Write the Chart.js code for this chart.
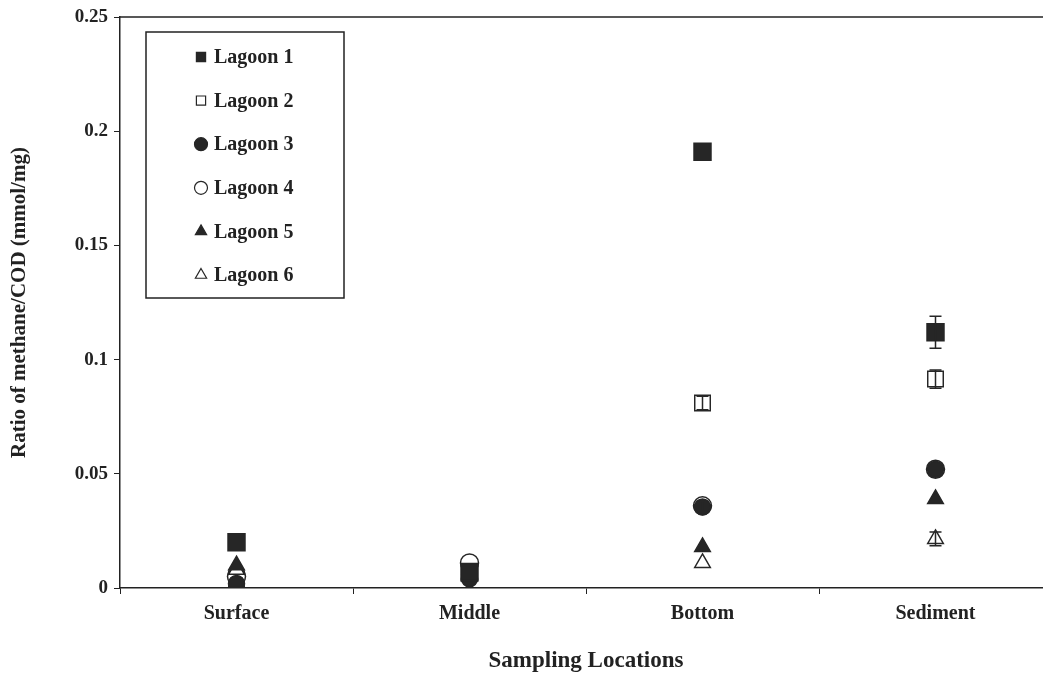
<!DOCTYPE html>
<html>
<head>
<meta charset="utf-8">
<script src="https://cdn.jsdelivr.net/npm/chart.js@4/dist/chart.umd.min.js"></script>
<style>
  html, body { margin: 0; padding: 0; overflow: hidden; background: #fff; }
  #c { display: block; }
</style>
</head>
<body>
<canvas id="c" width="1052" height="675"></canvas>
<script>
// ---- data ----
const categories = ["Surface", "Middle", "Bottom", "Sediment"];
const seriesNames = ["Lagoon 1", "Lagoon 2", "Lagoon 3", "Lagoon 4", "Lagoon 5", "Lagoon 6"];
const lagoon1 = [0.020, 0.007, 0.191, 0.112];
const lagoon2 = [0.004, 0.009, 0.081, 0.0915];
const lagoon3 = [0.002, 0.004, 0.0355, 0.052];
const lagoon4 = [0.005, 0.011, 0.036, 0.052];
const lagoon5 = [0.010, 0.006, 0.018, 0.039];
const lagoon6 = [0.008, 0.005, 0.011, 0.0215];
const err1 = [0, 0, 0, 0.007];
const err2 = [0, 0, 0.003, 0.004];
const err3 = [0, 0, 0, 0];
const err4 = [0, 0, 0.002, 0];
const err5 = [0, 0, 0, 0];
const err6 = [0, 0, 0, 0.003];
const yTickValues = [0, 0.05, 0.1, 0.15, 0.2, 0.25];
const yTickLabels = ["0", "0.05", "0.1", "0.15", "0.2", "0.25"];

const FONT = '"Liberation Serif", "Times New Roman", serif';
const DARK = '#262626';

function ds(label, data, err, style, filled, radius, order) {
  return {
    label, data, errors: err, order,
    showLine: false,
    pointStyle: style,
    pointRadius: radius,
    pointHoverRadius: radius,
    pointBackgroundColor: filled ? DARK : '#ffffff',
    pointBorderColor: DARK,
    pointBorderWidth: 1.5,
    borderColor: DARK,
    backgroundColor: filled ? DARK : '#ffffff'
  };
}

const datasets = [
  ds(seriesNames[0], lagoon1, err1, 'rect', true, 12, 1),
  ds(seriesNames[1], lagoon2, err2, 'rect', false, 11, 6),
  ds(seriesNames[2], lagoon3, err3, 'circle', true, 8, 2),
  ds(seriesNames[3], lagoon4, err4, 'circle', false, 9, 5),
  ds(seriesNames[4], lagoon5, err5, 'triangle', true, 9, 3),
  ds(seriesNames[5], lagoon6, err6, 'triangle', false, 9, 4)
];

const errorBars = {
  id: 'errorBars',
  afterDatasetsDraw(chart) {
    const ctx = chart.ctx;
    const y = chart.scales.y;
    ctx.save();
    ctx.strokeStyle = DARK;
    ctx.lineWidth = 1.5;
    chart.data.datasets.forEach((d, i) => {
      const meta = chart.getDatasetMeta(i);
      d.errors.forEach((e, j) => {
        if (!e) return;
        const p = meta.data[j];
        const yt = y.getPixelForValue(d.data[j] + e);
        const yb = y.getPixelForValue(d.data[j] - e);
        ctx.beginPath();
        ctx.moveTo(p.x, yt); ctx.lineTo(p.x, yb);
        ctx.moveTo(p.x - 6, yt); ctx.lineTo(p.x + 6, yt);
        ctx.moveTo(p.x - 6, yb); ctx.lineTo(p.x + 6, yb);
        ctx.stroke();
      });
    });
    ctx.restore();
  }
};

const frame = {
  id: 'frame',
  afterDraw(chart) {
    const {ctx, chartArea: a} = chart;
    ctx.save();
    ctx.strokeStyle = '#222';
    ctx.lineWidth = 1.5;
    ctx.beginPath();
    ctx.moveTo(a.left, a.top); ctx.lineTo(a.right, a.top); ctx.lineTo(a.right, a.bottom);
    ctx.stroke();
    ctx.restore();
  }
};

const boxLegend = {
  id: 'boxLegend',
  afterDraw(chart, args, opts) {
    const ctx = chart.ctx;
    ctx.save();
    ctx.fillStyle = '#fff';
    ctx.fillRect(opts.x, opts.y, opts.w, opts.h);
    ctx.strokeStyle = '#222';
    ctx.lineWidth = 1.5;
    ctx.strokeRect(opts.x, opts.y, opts.w, opts.h);
    ctx.font = 'bold 20px ' + FONT;
    ctx.textBaseline = 'middle';
    ctx.textAlign = 'left';
    chart.data.datasets.forEach((d, i) => {
      const cy = opts.y + opts.firstY + i * opts.step;
      ctx.fillStyle = d.pointBackgroundColor;
      ctx.strokeStyle = d.pointBorderColor;
      ctx.lineWidth = 1.2;
      Chart.helpers.drawPoint(ctx, {pointStyle: d.pointStyle, radius: 6.5, rotation: 0, borderWidth: 1.2}, opts.x + opts.markerX, cy);
      ctx.fillStyle = '#222';
      ctx.fillText(d.label, opts.x + opts.textX, cy + 1);
    });
    ctx.restore();
  }
};

new Chart(document.getElementById('c'), {
  type: 'line',
  data: { labels: categories, datasets },
  plugins: [errorBars, frame, boxLegend],
  options: {
    responsive: false,
    animation: false,
    layout: { autoPadding: false, padding: { top: 17, left: 0, right: 0, bottom: 0 } },
    plugins: {
      legend: { display: false },
      tooltip: { enabled: false },
      boxLegend: { x: 146, y: 32, w: 198, h: 266, firstY: 25, step: 43.6, markerX: 55, textX: 68 }
    },
    scales: {
      x: {
        type: 'category',
        offset: true,
        afterFit(s) { s.height = 87; s.paddingLeft = 0; s.paddingRight = 0; },
        grid: { drawOnChartArea: false, drawTicks: true, tickLength: 6, color: '#222', offset: true },
        border: { display: true, color: '#222', width: 1.5 },
        ticks: { color: '#222', padding: 8, font: { family: FONT, weight: 'bold', size: 20 } },
        title: {
          display: true, text: 'Sampling Locations', color: '#222',
          font: { family: FONT, weight: 'bold', size: 23 },
          padding: { top: 0, bottom: 0 }
        }
      },
      y: {
        min: 0, max: 0.25,
        afterFit(s) { s.width = 120; s.paddingTop = 0; s.paddingBottom = 0; },
        afterBuildTicks(s) { s.ticks = yTickValues.map(v => ({ value: v })); },
        grid: { drawOnChartArea: false, drawTicks: true, tickLength: 6, color: '#222' },
        border: { display: true, color: '#222', width: 1.5 },
        ticks: {
          color: '#222', padding: 6,
          font: { family: FONT, weight: 'bold', size: 19 },
          callback(v) { const i = yTickValues.indexOf(v); return i >= 0 ? yTickLabels[i] : ''; }
        },
        title: {
          display: true, text: 'Ratio of methane/COD (mmol/mg)', color: '#222',
          font: { family: FONT, weight: 'bold', size: 21 },
          padding: { top: 7, bottom: 0 }
        }
      }
    }
  }
});
</script>
</body>
</html>
